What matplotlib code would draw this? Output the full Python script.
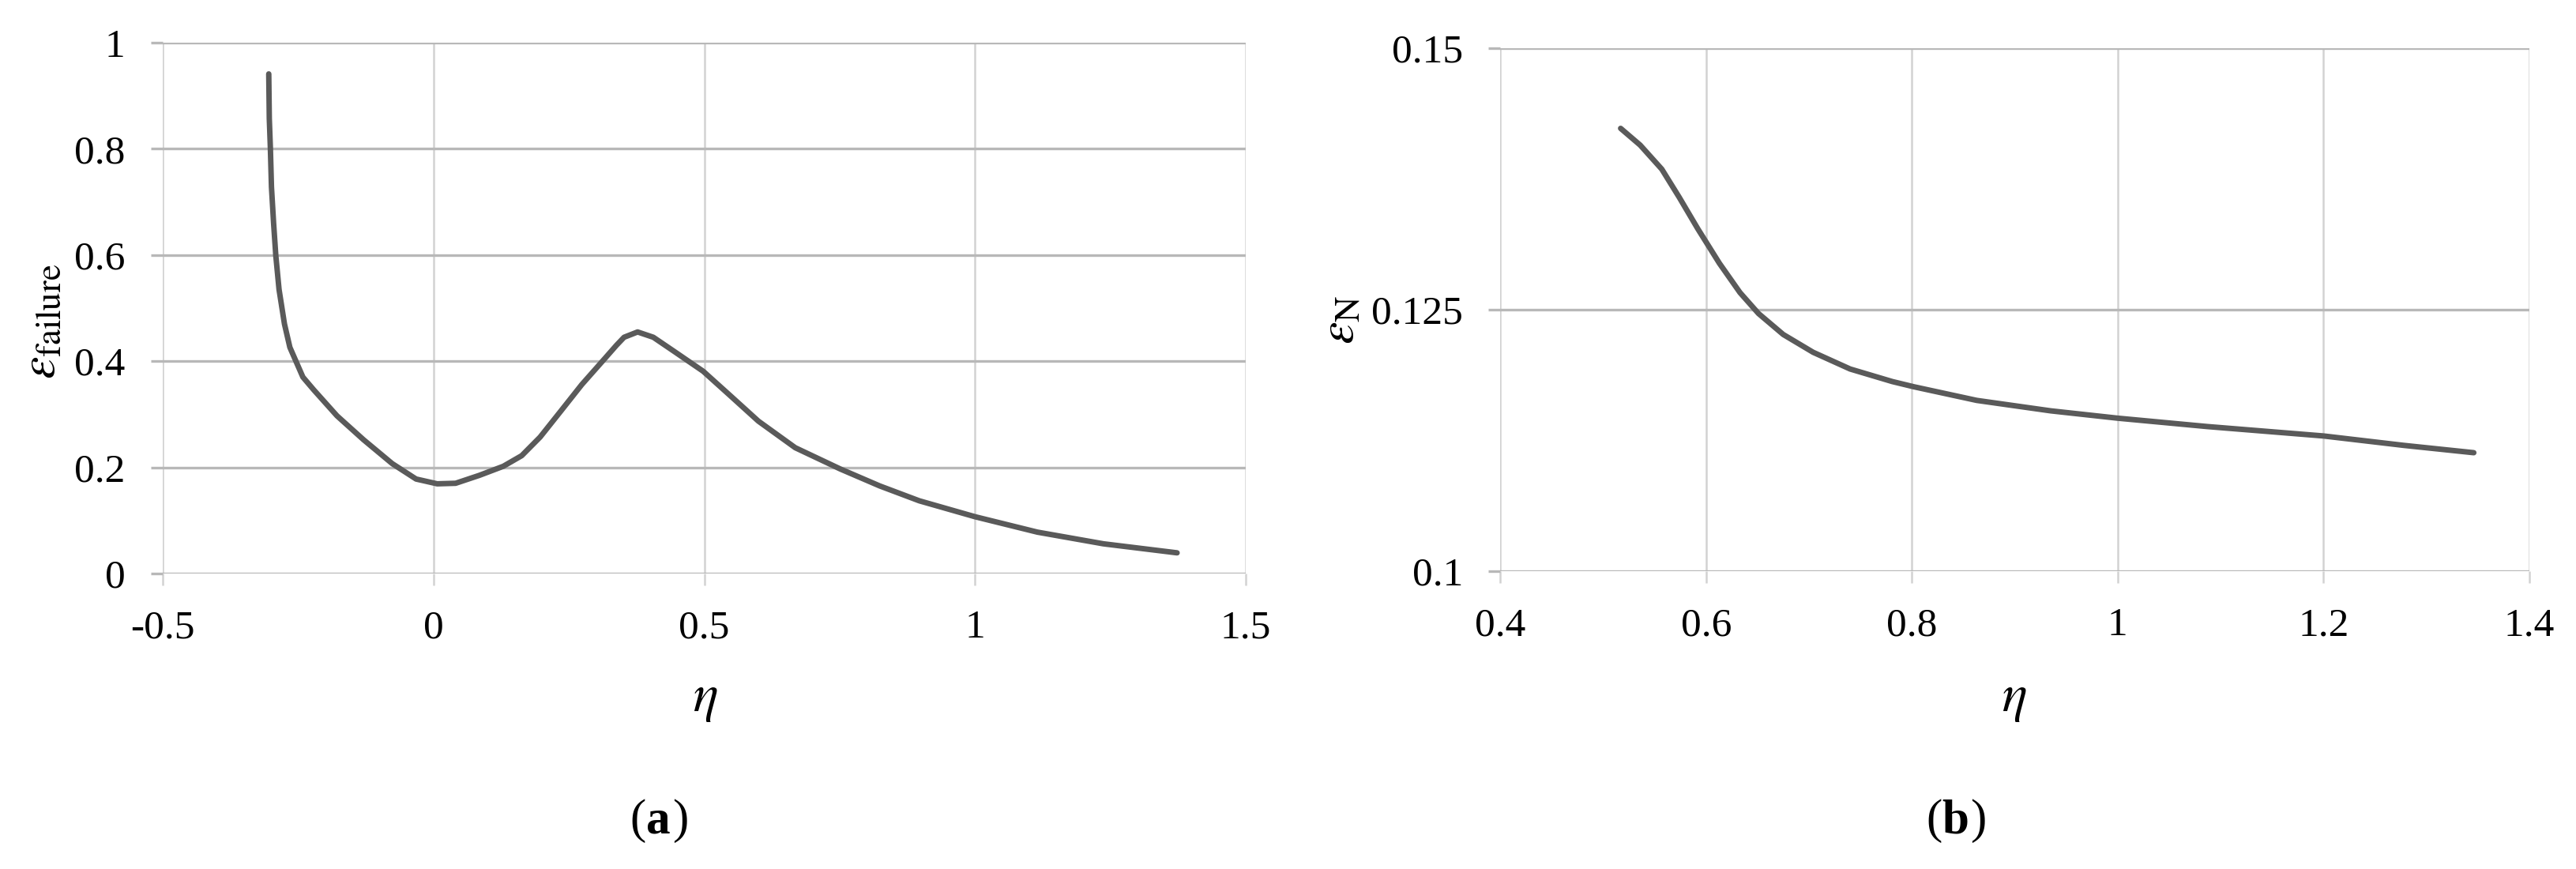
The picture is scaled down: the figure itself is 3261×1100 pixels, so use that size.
import matplotlib.pyplot as plt

plt.rcParams['font.family'] = ['Liberation Serif', 'DejaVu Serif']
plt.rcParams['mathtext.fontset'] = 'stix'

# (a) failure strain vs stress triaxiality
eta_a = [-0.304, -0.303, -0.301, -0.299, -0.295, -0.291, -0.285, -0.275, -0.265, -0.253,
         -0.241, -0.221, -0.178, -0.129, -0.076, -0.032, 0.007, 0.041, 0.085, 0.129,
         0.163, 0.197, 0.236, 0.274, 0.313, 0.338, 0.352, 0.377, 0.406, 0.445,
         0.498, 0.547, 0.600, 0.668, 0.751, 0.824, 0.897, 1.000, 1.115, 1.237, 1.373]
eps_failure = [0.941, 0.857, 0.801, 0.728, 0.659, 0.599, 0.535, 0.470, 0.426, 0.398,
               0.370, 0.346, 0.297, 0.252, 0.207, 0.178, 0.169, 0.170, 0.185, 0.202,
               0.222, 0.257, 0.307, 0.356, 0.401, 0.430, 0.445, 0.455, 0.445, 0.418,
               0.381, 0.336, 0.287, 0.237, 0.197, 0.165, 0.137, 0.107, 0.078, 0.056, 0.039]

# (b) eps_N vs eta
eta_b = [0.517, 0.536, 0.557, 0.574, 0.592, 0.613, 0.633, 0.651, 0.675, 0.704,
         0.740, 0.781, 0.802, 0.863, 0.935, 1.000, 1.087, 1.200, 1.278, 1.346]
eps_n = [0.1423, 0.1407, 0.1384, 0.1357, 0.1327, 0.1294, 0.1266, 0.1246, 0.1226, 0.1209,
         0.1193, 0.1181, 0.1176, 0.1163, 0.1153, 0.1146, 0.1138, 0.1129, 0.1120, 0.1113]

xticks_a = [-0.5, 0, 0.5, 1, 1.5]
xlabels_a = ['-0.5', '0', '0.5', '1', '1.5']
yticks_a = [0, 0.2, 0.4, 0.6, 0.8, 1]
ylabels_a = ['0', '0.2', '0.4', '0.6', '0.8', '1']
xticks_b = [0.4, 0.6, 0.8, 1.0, 1.2, 1.4]
xlabels_b = ['0.4', '0.6', '0.8', '1', '1.2', '1.4']
yticks_b = [0.1, 0.125, 0.15]
ylabels_b = ['0.1', '0.125', '0.15']

fig = plt.figure(figsize=(32.62, 11), dpi=100)
ax1 = fig.add_axes([0.0631, 0.340, 0.4204, 0.611])
ax2 = fig.add_axes([0.5822, 0.343, 0.3994, 0.602])


def style(ax, xt, xl, yt, yl):
    for s in ax.spines.values():
        s.set_visible(False)
    ax.set_xticks(xt)
    ax.set_xticklabels(xl)
    ax.set_yticks(yt)
    ax.set_yticklabels(yl)
    ax.set_xlim(xt[0], xt[-1])
    ax.set_ylim(yt[0], yt[-1])
    ax.xaxis.grid(True, color='#d2d2d2', linewidth=1.8)
    ax.yaxis.grid(True, color='#b8b8b8', linewidth=2.4)
    ax.tick_params(axis='x', length=11, width=1.8, color='#d2d2d2', pad=22, labelsize=37)
    ax.tick_params(axis='y', length=11, width=2.4, color='#b8b8b8', pad=23, labelsize=37)
    ax.set_axisbelow(True)


style(ax1, xticks_a, xlabels_a, yticks_a, ylabels_a)
style(ax2, xticks_b, xlabels_b, yticks_b, ylabels_b)

ax1.plot(eta_a, eps_failure, color='#5a5a5a', linewidth=5, solid_joinstyle='round',
         solid_capstyle='round', clip_on=False)
ax2.plot(eta_b, eps_n, color='#5a5a5a', linewidth=5, solid_joinstyle='round',
         solid_capstyle='round', clip_on=False)

fig.text(0.0165, 0.630, r'$\varepsilon_{\mathrm{failure}}$', fontsize=46, rotation=90,
         ha='center', va='center')
fig.text(0.5205, 0.632, r'$\varepsilon_{\mathrm{N}}$', fontsize=46, rotation=90,
         ha='center', va='center')
fig.text(0.2737, 0.195, r'$\eta$', fontsize=48, ha='center', va='center')
fig.text(0.7817, 0.195, r'$\eta$', fontsize=48, ha='center', va='center')

fig.text(0.2508, 0.055, '(', fontsize=44, ha='right', va='center')
fig.text(0.2508, 0.055, 'a', fontsize=44, fontweight='bold', ha='left', va='center')
fig.text(0.2508 + 0.0100, 0.055, ')', fontsize=44, ha='left', va='center')
fig.text(0.7536, 0.055, '(', fontsize=44, ha='right', va='center')
fig.text(0.7536, 0.055, 'b', fontsize=44, fontweight='bold', ha='left', va='center')
fig.text(0.7536 + 0.0111, 0.055, ')', fontsize=44, ha='left', va='center')

fig.savefig('out.png', dpi=100, facecolor='white')
